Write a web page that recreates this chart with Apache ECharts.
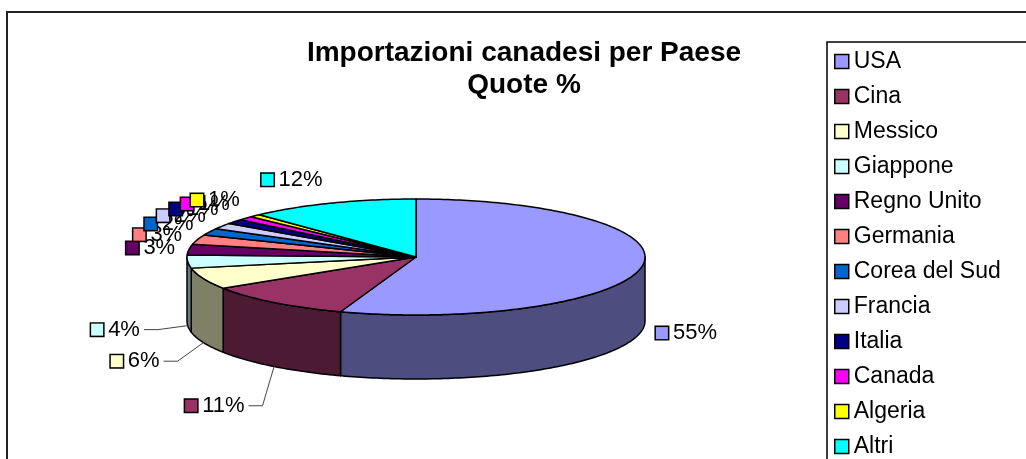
<!DOCTYPE html>
<html>
<head>
<meta charset="utf-8">
<script src="https://cdn.jsdelivr.net/npm/echarts@6/dist/echarts.min.js"></script>
<style>
  html, body { margin: 0; padding: 0; background: #fff; }
  #chart-container { width: 1026px; height: 459px; }
</style>
</head>
<body>
<div id="chart-container"></div>
<script>
var names = ['USA', 'Cina', 'Messico', 'Giappone', 'Regno Unito', 'Germania',
  'Corea del Sud', 'Francia', 'Italia', 'Canada', 'Algeria', 'Altri'];
var values = [55.4, 10.6, 6.0, 3.6, 3.0, 2.7, 1.9, 1.7, 1.3, 1.1, 0.8, 12.0];
var colors = ['#9999FF', '#993366', '#FFFFCC', '#CCFFFF', '#660066', '#FF8080',
  '#0066CC', '#CCCCFF', '#000080', '#FF00FF', '#FFFF00', '#00FFFF'];

var FONT = '"Liberation Sans", Arial, sans-serif';

var dom = document.getElementById('chart-container');
var myChart = echarts.init(dom, null, { renderer: 'canvas' });

var total = values.reduce(function (a, b) { return a + b; }, 0);
var starts = [];
var acc = 0;
values.forEach(function (v) {
  starts.push(acc / total * 360);
  acc += v;
});

// half-tone colour for the cylinder wall
function darker(hex) {
  var n = parseInt(hex.slice(1), 16);
  var r = Math.round(((n >> 16) & 255) * 0.5);
  var g = Math.round(((n >> 8) & 255) * 0.5);
  var b = Math.round((n & 255) * 0.5);
  return 'rgb(' + r + ',' + g + ',' + b + ')';
}

function makeRender(i) {
  return function (params, api) {
    var cx = 416, cy = 257, rx = 229, ry = 58, depth = 64;
    var a1 = starts[i];
    var a2 = a1 + api.value(0) / total * 360;

    function pt(t, dy) {
      var r = t * Math.PI / 180;
      return [cx + rx * Math.sin(r), cy - ry * Math.cos(r) + dy];
    }
    function arc(s, e, dy) {
      var pts = [];
      for (var t = s; t < e; t += 1) pts.push(pt(t, dy));
      pts.push(pt(e, dy));
      return pts;
    }

    var children = [];
    var s = Math.max(a1, 90), e = Math.min(a2, 270);
    if (s < e) {
      var side = arc(s, e, 0).concat(arc(s, e, depth).reverse());
      children.push({
        type: 'polygon',
        shape: { points: side },
        style: { fill: darker(colors[i]), stroke: '#000', lineWidth: 1.5, lineJoin: 'round' }
      });
    }
    children.push({
      type: 'polygon',
      shape: { points: [[cx, cy]].concat(arc(a1, a2, 0)) },
      style: { fill: colors[i], stroke: '#000', lineWidth: 1.5, lineJoin: 'round' }
    });

    // label
    var m = (a1 + a2) / 2;
    var mr = m * Math.PI / 180;
    var sn = Math.sin(mr), cs = Math.cos(mr);
    var front = cs < 0;
    var leader = front && sn < 0;
    var anchor = pt(m, front ? depth : 0);
    var end, tx;
    if (leader) {
      end = [anchor[0] - 30 * sn * sn, anchor[1] - 50 * cs];
      children.push({
        type: 'polyline',
        shape: { points: [anchor, end, [end[0] - 14, end[1]]] },
        style: { stroke: '#444', lineWidth: 1, fill: null }
      });
      tx = end[0] - 18;
    } else {
      var L = 12 + 14 * Math.abs(cs);
      end = [anchor[0] + L * sn, anchor[1] - L * cs];
      tx = end[0];
    }
    var pct = Math.round(api.value(0) / total * 100);
    children.push({
      type: 'text',
      style: {
        text: '{sq|}{gap|}{t|' + pct + '%}',
        x: tx,
        y: end[1],
        align: sn < 0 ? 'right' : 'left',
        verticalAlign: 'middle',
        font: '22px ' + FONT,
        rich: {
          sq: { width: 12, height: 12, backgroundColor: colors[i], borderColor: '#000', borderWidth: 1.5 },
          gap: { width: 5 },
          t: { fontSize: 22, fontFamily: FONT, fill: '#000' }
        }
      }
    });
    return { type: 'group', children: children };
  };
}

var option = {
  backgroundColor: '#fff',
  animation: false,
  title: {
    text: 'Importazioni canadesi per Paese\nQuote %',
    left: 524,
    top: 37,
    padding: 0,
    textAlign: 'center',
    textStyle: { fontFamily: FONT, fontSize: 28, fontWeight: 'bold', color: '#000', lineHeight: 32 }
  },
  legend: {
    orient: 'vertical',
    left: 827,
    top: 42,
    height: 520,
    padding: [8, 80, 10, 7],
    borderColor: '#000',
    borderWidth: 1.5,
    itemWidth: 14,
    itemHeight: 14,
    itemGap: 12,
    icon: 'rect',
    itemStyle: { borderColor: '#000', borderWidth: 1.5 },
    textStyle: { fontFamily: FONT, fontSize: 23, lineHeight: 22, color: '#000' },
    data: names
  },
  graphic: [{
    type: 'rect',
    shape: { x: 7, y: 12, width: 1100, height: 500 },
    style: { fill: null, stroke: '#222', lineWidth: 2 },
    silent: true
  }],
  series: names.map(function (n, i) {
    return {
      type: 'custom',
      name: n,
      coordinateSystem: 'none',
      itemStyle: { color: colors[i] },
      data: [values[i]],
      renderItem: makeRender(i)
    };
  })
};

if (option && typeof option === 'object') {
  myChart.setOption(option);
}

window.addEventListener('resize', myChart.resize);
</script>
</body>
</html>
